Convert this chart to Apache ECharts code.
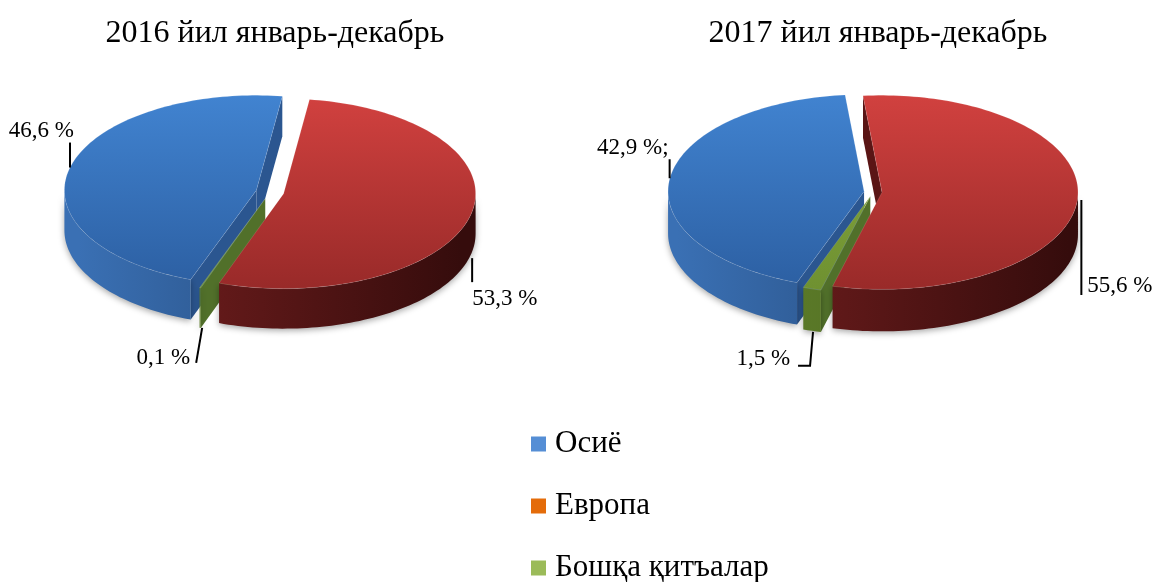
<!DOCTYPE html>
<html><head><meta charset="utf-8">
<script src="https://cdn.jsdelivr.net/npm/echarts@6/dist/echarts.min.js"></script>
<style>html,body{margin:0;padding:0;background:#fff}#c{width:1158px;height:582px}</style>
</head><body><div id="c"></div>
<script>
// ---- data ----
const categories = ['Осиё', 'Европа', 'Бошқа қитъалар'];
const pieTitles = ['2016 йил январь-декабрь', '2017 йил январь-декабрь'];
const values2016 = [46.6, 53.3, 0.1];
const values2017 = [42.9, 55.6, 1.5];
const labelSuffix2016 = ['', '', ''];
const labelSuffix2017 = [';', '', ''];

const pieValues = [values2016, values2017];
const labelSuffix = [labelSuffix2016, labelSuffix2017];

// ---- styles / layout ----
const legendColors = ['#558ED5', '#E46C0A', '#9BBB59'];
const shade = [
  {top: ['#4183D0', '#2C5FA2'], wall: ['#3A70B4', '#1D3A62'], face: '#2B5690'},
  {top: ['#D1413F', '#992A29'], wall: ['#7C2121', '#350C0C'], face: '#5A1515'},
  {top: ['#86A93F', '#6F9131'], wall: ['#61822B', '#4A6420'], face: '#51702A'}
];
const geom = [
  {cx: 270, cy: 192, rx: 192, ry: 95, depth: 40, explode: 14, start: 200},
  {cx: 873, cy: 192, rx: 196, ry: 97, depth: 42, explode: 9, start: 200}
];
const labelLayout = [
  [
    {pts: [[0, 0], [0, -25]], tx: 4, ty: -37, align: 'right'},
    {pts: [[2, 2], [2, 26]], tx: 2, ty: 43, align: 'left'},
    {pts: [[2, 0], [-4, 35]], tx: -10, ty: 30, align: 'right'}
  ],
  [
    {pts: [[0, -1], [0, -20]], tx: -1, ty: -31, align: 'right'},
    {pts: [[4, -42], [4, 53]], tx: 10, ty: 44, align: 'left'},
    {pts: [[1, 1], [-2, 35], [-14, 35]], tx: -22, ty: 28, align: 'right'}
  ]
];
const FONT = 'Liberation Serif, Times New Roman, serif';
const rad = d => d * Math.PI / 180;

function renderSlice(params, api) {
  const pie = params.dataIndex;
  const cat = params.seriesIndex;
  const g = geom[pie];
  const vals = pieValues[pie];
  const total = vals.reduce((a, b) => a + b, 0);
  let cum = 0;
  for (let i = 0; i < cat; i++) cum += vals[i];
  const a0 = g.start + cum / total * 360;
  const a1 = a0 + vals[cat] / total * 360;
  const mid = (a0 + a1) / 2;
  const ox = g.explode * Math.sin(rad(mid));
  const oy = -g.explode * Math.cos(rad(mid)) * (g.ry / g.rx);
  const P = (a, r, dz) => [g.cx + ox + g.rx * r * Math.sin(rad(a)), g.cy + oy - g.ry * r * Math.cos(rad(a)) + dz];
  const arc = (b0, b1, dz) => {
    const pts = [];
    const n = Math.max(2, Math.ceil(Math.abs(b1 - b0) / 1.5));
    for (let k = 0; k <= n; k++) pts.push(P(b0 + (b1 - b0) * k / n, 1, dz));
    return pts;
  };
  const sh = shade[cat];
  const children = [];
  const wallGrad = {type: 'linear', x: g.cx - g.rx, y: 0, x2: g.cx + g.rx, y2: 0, global: true,
    colorStops: [{offset: 0, color: sh.wall[0]}, {offset: 1, color: sh.wall[1]}]};
  const topGrad = {type: 'linear', x: 0, y: g.cy - g.ry, x2: 0, y2: g.cy + g.ry, global: true,
    colorStops: [{offset: 0, color: sh.top[0]}, {offset: 1, color: sh.top[1]}]};
  // outer wall (front half only)
  [[90, 270], [450, 630]].forEach(([f0, f1]) => {
    const b0 = Math.max(a0, f0), b1 = Math.min(a1, f1);
    if (b1 > b0) {
      const top = arc(b0, b1, 0);
      const bot = arc(b1, b0, g.depth);
      const pts = top.concat(bot);
      const my = top.reduce((s, p) => s + p[1], 0) / top.length;
      children.push({type: 'polygon', shape: {points: pts}, z2: Math.round(my),
        style: {fill: wallGrad, shadowBlur: 6, shadowColor: 'rgba(0,0,0,0.35)', shadowOffsetY: 2}});
    }
  });
  // radial faces
  const apexT = P(0, 0, 0), apexB = P(0, 0, g.depth);
  [[a0, a0 - 90], [a1, a1 + 90]].forEach(([a, n]) => {
    if (Math.cos(rad(n)) < 0) {
      const rt = P(a, 1, 0), rb = P(a, 1, g.depth);
      const my = (apexT[1] + rt[1]) / 2;
      children.push({type: 'polygon', shape: {points: [apexT, rt, rb, apexB]}, z2: Math.round(my),
        style: {fill: sh.face}});
    }
  });
  // top face
  children.push({type: 'polygon', shape: {points: [apexT].concat(arc(a0, a1, 0))}, z2: 1000,
    style: {fill: topGrad, stroke: 'rgba(255,255,255,0.12)', lineWidth: 1}});
  // label
  const front = Math.cos(rad(mid)) < 0;
  const anc = P(mid, 1, front ? g.depth : 0);
  const L = labelLayout[pie][cat];
  children.push({type: 'polyline', z2: 2000,
    shape: {points: L.pts.map(p => [anc[0] + p[0], anc[1] + p[1]])},
    style: {stroke: '#000', lineWidth: 2, fill: null}});
  const txt = vals[cat].toFixed(1).replace('.', ',') + ' %' + labelSuffix[pie][cat];
  children.push({type: 'text', z2: 2000, x: anc[0] + L.tx, y: anc[1] + L.ty,
    style: {text: txt, fill: '#000', font: '23px ' + FONT, align: L.align, verticalAlign: 'middle'}});
  return {type: 'group', children};
}

const chart = echarts.init(document.getElementById('c'), null, {renderer: 'canvas'});
chart.setOption({
  animation: false,
  backgroundColor: '#fff',
  title: pieTitles.map((t, i) => ({
    text: t, left: geom[i].cx, top: 13, textAlign: 'center',
    textStyle: {fontFamily: FONT, fontSize: 32, fontWeight: 'normal', color: '#000'}
  })),
  legend: {
    orient: 'vertical', left: 531, top: 428, height: 170, itemWidth: 15, itemHeight: 15, itemGap: 30,
    padding: 0, icon: 'rect', selectedMode: false, data: categories,
    textStyle: {fontFamily: FONT, fontSize: 31, color: '#000', lineHeight: 32, padding: [0, 0, 0, 4]}
  },
  series: categories.map((name, c) => ({
    type: 'custom', name, coordinateSystem: 'none', silent: true,
    itemStyle: {color: legendColors[c]},
    renderItem: renderSlice,
    data: pieValues.map(p => [p[c]])
  }))
});
</script>
</body></html>
